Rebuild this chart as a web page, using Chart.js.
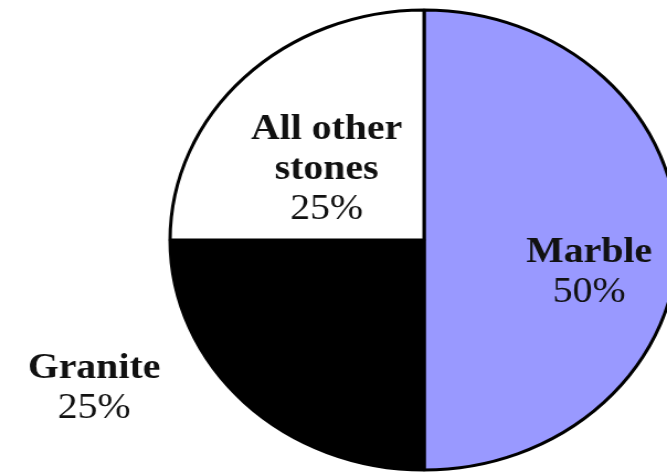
<!DOCTYPE html>
<html>
<head>
<meta charset="utf-8">
<script src="https://cdn.jsdelivr.net/npm/chart.js@4.4.0/dist/chart.umd.min.js"></script>
<style>
  html, body { margin: 0; padding: 0; background: #ffffff; overflow: hidden; }
  #wrap { width: 667px; height: 475px; position: relative; overflow: hidden; }
  /* the original picture is a little wider than tall, so stretch the canvas */
  #stonePie { position: absolute; left: 0; top: 0; transform: scaleX(1.1043); transform-origin: 0 0; }
</style>
</head>
<body>
<div id="wrap">
  <canvas id="stonePie" width="604" height="475"></canvas>
</div>
<script>
// Data
const stoneNames = ["Marble", "Granite", "All other stones"];
const stoneShares = [50, 25, 25];
const stoneColors = ["#9999ff", "#000000", "#ffffff"];

// Where each label block sits: angle (deg, 0 = right) and distance as a share of the radius
const labelSpots = [
  { angle: 12.2, dist: 0.665, lines: ["Marble"] },
  { angle: 153.5, dist: 1.452, lines: ["Granite"] },
  { angle: -141.5, dist: 0.49, lines: ["All other", "stones"] },
];

// Draws the name and percent for each slice
const sliceLabels = {
  id: "sliceLabels",
  afterDatasetsDraw(chart) {
    let ctx = chart.ctx;
    let meta = chart.getDatasetMeta(0);
    ctx.save();
    ctx.textAlign = "center";
    ctx.textBaseline = "middle";
    ctx.fillStyle = "#111111";
    meta.data.forEach(function (arc, i) {
      let spot = labelSpots[i];
      let rad = (spot.angle * Math.PI) / 180;
      let cx = arc.x + Math.cos(rad) * arc.outerRadius * spot.dist;
      let cy = arc.y + Math.sin(rad) * arc.outerRadius * spot.dist;
      let rows = spot.lines.length + 1;
      let lineH = 40;
      let y = cy - ((rows - 1) * lineH) / 2;
      ctx.font = "bold 36px 'Liberation Serif', 'Times New Roman', serif";
      spot.lines.forEach(function (txt) {
        ctx.fillText(txt, cx, y);
        y += lineH;
      });
      ctx.font = "36px 'Liberation Serif', 'Times New Roman', serif";
      ctx.fillText(stoneShares[i] + "%", cx, y);
    });
    ctx.restore();
  },
};

let stoneChart = new Chart(document.getElementById("stonePie"), {
  type: "pie",
  data: {
    labels: stoneNames,
    datasets: [
      {
        data: stoneShares,
        backgroundColor: stoneColors,
        borderColor: "#000000",
        borderWidth: 3,
        radius: 230,
      },
    ],
  },
  options: {
    responsive: false,
    animation: false,
    devicePixelRatio: 1,
    layout: { padding: { left: 164, right: 0, top: 10, bottom: 5 } },
    plugins: {
      legend: { display: false },
      tooltip: { enabled: false },
    },
  },
  plugins: [sliceLabels],
});
</script>
</body>
</html>
